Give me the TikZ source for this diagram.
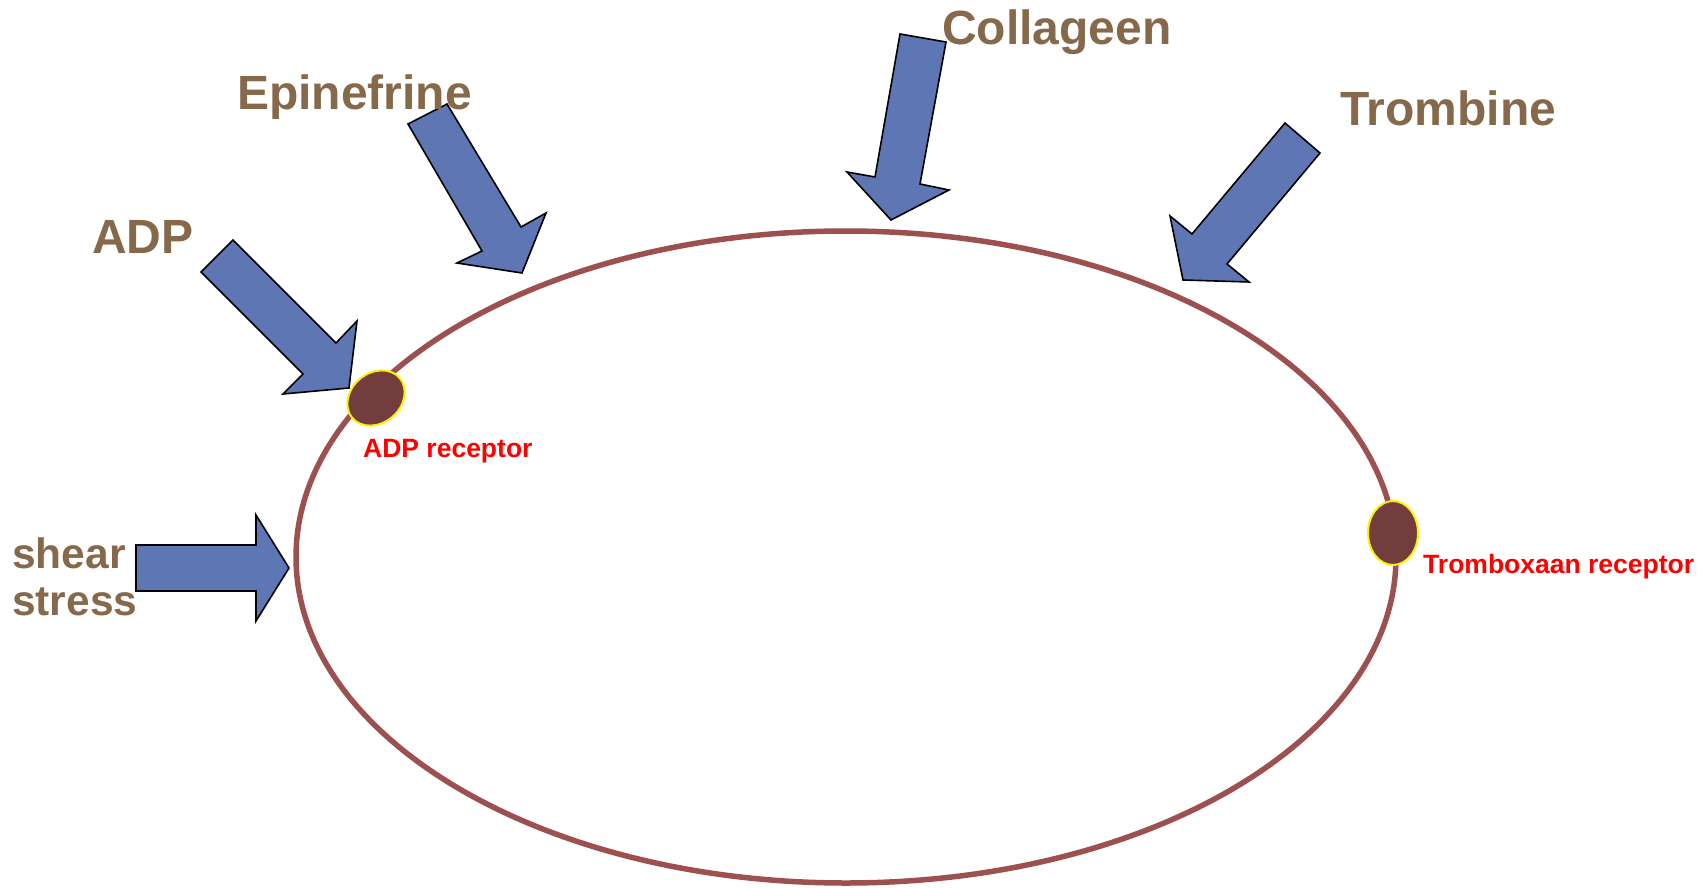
\documentclass[tikz,border=0pt]{standalone}
\usepackage{fontspec}
\setmainfont{Liberation Sans}
\usetikzlibrary{shapes.geometric}
\definecolor{labelbrown}{RGB}{134,105,74}
\definecolor{arrowblue}{RGB}{94,118,180}
\definecolor{membrane}{RGB}{156,80,80}
\definecolor{receptorfill}{RGB}{115,61,61}
\tikzset{
	agonist/.style={font=\fontsize{48}{50}\selectfont\bfseries,text=labelbrown,inner sep=0pt,anchor=base west},
	shearlabel/.style={agonist,font=\fontsize{42.5}{44}\selectfont\bfseries},
	receptorlabel/.style={font=\fontsize{26.5}{28}\selectfont\bfseries,text=red,inner sep=0pt,anchor=base west},
	blockarrow/.style={fill=arrowblue,draw=black,line width=1.6pt,line join=miter},
	receptor/.style={ellipse,fill=receptorfill,draw=yellow,line width=2pt,inner sep=0pt}
}
\begin{document}
\begin{tikzpicture}[line cap=round,line join=round,x=1pt,y=-1pt]
		\useasboundingbox (0,0) rectangle (1704,888);
		\draw[color=membrane,line width=5.5pt] (846,557) ellipse (550 and 326);
		\draw[blockarrow] (201,272) -- (233,240) -- (336,343) -- (357,321) -- (349,388) -- (283,394) -- (303,374) -- cycle;
		\draw[blockarrow] (136,545) -- (256,545) -- (256,515) -- (289,568) -- (256,621) -- (256,591) -- (136,591) -- cycle;
		\draw[blockarrow] (408,124) -- (447,104) -- (521,227) -- (546,213) -- (522,273) -- (457,263) -- (482,251) -- cycle;
		\draw[blockarrow] (900,34) -- (946,42) -- (920,184) -- (949,190) -- (891,220) -- (847,172) -- (875,177) -- cycle;
		\draw[blockarrow] (1285,123) -- (1320,153) -- (1227,264) -- (1249,282) -- (1183,280) -- (1170,216) -- (1192,234) -- cycle;
		\node[receptor,minimum width=62pt,minimum height=50pt,rotate=40] (adprec) at (376,398) {};
		\node[receptor,minimum width=50pt,minimum height=64pt] (txrec) at (1393,533) {};
		\node[agonist] (adp) at (92,253) {ADP};
		\node[agonist] (epi) at (237,110) {Epinefrine};
		\node[agonist] (coll) at (942,45) {Collageen};
		\node[agonist] (thr) at (1340,125) {Trombine};
		\node[shearlabel] (shear) at (12,568) {shear};
		\node[shearlabel] (stress) at (12,615) {stress};
		\node[receptorlabel] (adplabel) at (363,457) {ADP receptor};
		\node[receptorlabel] (txlabel) at (1423,573) {Tromboxaan receptor};
	\end{tikzpicture}
\end{document}
